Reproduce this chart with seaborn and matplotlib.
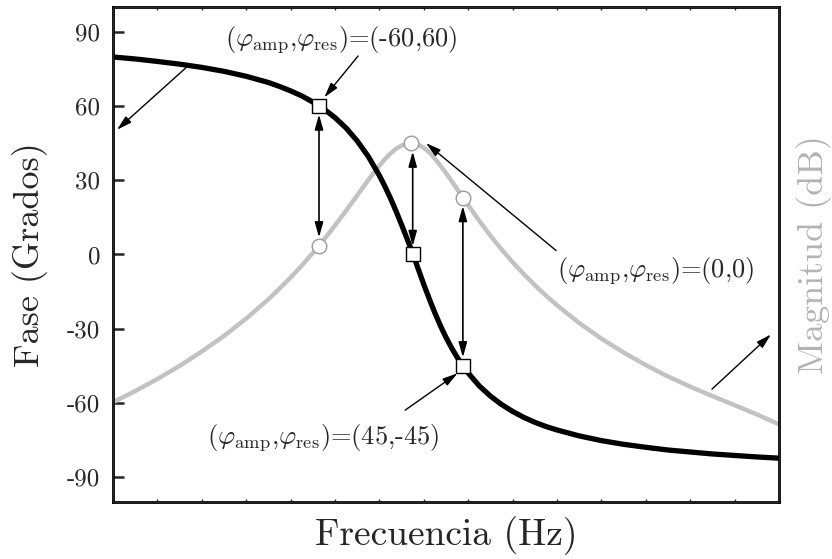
import matplotlib
matplotlib.use("Agg")
import matplotlib.pyplot as plt
import pandas as pd
import seaborn as sns

# Phase response (degrees) versus frequency (arbitrary units)
freq_phase = [0, 0.5, 1, 1.5, 2, 2.5, 3, 3.5, 3.75, 4, 4.25, 4.5, 4.64, 4.75, 5,
              5.25, 5.5, 5.75, 6, 6.125, 6.25, 6.375, 6.5, 6.625, 6.76, 6.88,
              7, 7.125, 7.25, 7.375, 7.5, 7.625, 7.75, 7.88, 8, 8.25, 8.5, 8.75,
              9, 9.25, 9.5, 9.75, 10, 10.5, 11, 11.5, 12, 12.5, 13, 13.5, 14,
              14.5, 15]
phase_deg = [79.8, 79.0, 78.0, 76.9, 75.6, 74.0, 72.0, 69.5, 67.9, 66.1, 64.1,
             61.6, 60.0, 58.8, 55.3, 51.1, 45.9, 39.6, 31.9, 27.5, 22.7, 17.5,
             12.0, 6.3, 0.0, -6.1, -12.1, -18.0, -23.6, -28.8, -33.5, -37.7,
             -41.5, -45.0, -47.9, -53.1, -57.2, -60.6, -63.4, -65.8, -67.8,
             -69.5, -70.9, -73.3, -75.2, -76.7, -77.9, -79.0, -79.8, -80.6,
             -81.2, -81.8, -82.3]

# Magnitude response, drawn on the same vertical scale
freq_mag = [0, 0.5, 1, 1.5, 2, 2.5, 3, 3.5, 3.75, 4, 4.25, 4.5, 4.64, 4.75, 5,
            5.25, 5.375, 5.5, 5.625, 5.75, 5.875, 6, 6.125, 6.25, 6.375, 6.5,
            6.6, 6.72, 6.86, 7, 7.125, 7.25, 7.375, 7.5, 7.625, 7.75, 7.88, 8,
            8.25, 8.5, 8.75, 9, 9.25, 9.5, 9.75, 10, 10.5, 11, 11.5, 12, 12.5,
            13, 13.5, 14, 14.5, 15]
magnitude = [-59.7, -55.2, -50.3, -45.0, -39.2, -32.9, -25.9, -18.1, -13.8,
             -9.3, -4.5, 0.6, 3.5, 6.0, 11.7, 17.7, 20.8, 23.9, 27.0, 30.1,
             33.1, 35.9, 38.5, 40.8, 42.7, 44.0, 44.7, 45.0, 44.5, 43.1, 41.2,
             38.7, 35.9, 32.9, 29.7, 26.4, 23.0, 19.9, 13.6, 7.6, 2.1, -3.1,
             -7.9, -12.4, -16.6, -20.5, -27.7, -34.0, -39.6, -44.7, -49.3,
             -53.4, -57.2, -60.9, -64.6, -68.6]

# Highlighted operating points
marker_freq_phase = [4.64, 6.76, 7.88]
marker_phase = [60, 0, -45]
marker_freq_mag = [4.64, 6.72, 7.88]
marker_mag = [3.5, 45, 23]

phase_ticks = [90, 60, 30, 0, -30, -60, -90]
phase_tick_labels = ["90", "60", "30", "0", "-30", "-60", "-90"]
pair_values = ["(-60,60)", "(0,0)", "(45,-45)"]

sns.set_style("ticks")
plt.rcParams["font.family"] = ["cmr10", "DejaVu Serif"]
plt.rcParams["mathtext.fontset"] = "cm"
plt.rcParams["axes.unicode_minus"] = False

GRAY = "#c2c2c2"

fig = plt.figure(figsize=(8.32, 5.59), dpi=100)
ax = fig.add_axes([0.1358, 0.102, 0.8005, 0.8855])

phase_df = pd.DataFrame({"f": freq_phase, "v": phase_deg})
mag_df = pd.DataFrame({"f": freq_mag, "v": magnitude})

sns.lineplot(data=mag_df, x="f", y="v", ax=ax, color=GRAY, lw=3.2, zorder=2)
sns.lineplot(data=phase_df, x="f", y="v", ax=ax, color="black", lw=3.8, zorder=3)

ax.set_xlim(0, 15)
ax.set_ylim(-100, 100)
ax.set_xticks(range(0, 16))
ax.set_xticklabels([])
ax.set_yticks(phase_ticks)
ax.set_yticklabels(phase_tick_labels)
ax.tick_params(axis="x", direction="in", length=2, width=1, top=True, bottom=True)
ax.tick_params(axis="y", direction="in", length=8, width=1.8, pad=9,
               labelsize=18, left=True, right=False)
for s in ax.spines.values():
    s.set_linewidth(2.0)
    s.set_color("black")

ax.set_xlabel("Frecuencia (Hz)", fontsize=27, labelpad=7)
ax.set_ylabel("Fase (Grados)", fontsize=26, labelpad=14)

twin = ax.twinx()
twin.set_ylim(-100, 100)
twin.set_yticks([])
twin.set_ylabel("Magnitud (dB)", fontsize=26, color="#b3b3b3", labelpad=12)

# Vertical double arrows linking each magnitude point to its phase point
dbl = dict(arrowstyle="<|-|>,head_length=0.9,head_width=0.25", color="black",
           lw=1.2, mutation_scale=10, shrinkA=6, shrinkB=6)
ax.annotate("", xy=(4.64, marker_mag[0]), xytext=(4.64, marker_phase[0]), arrowprops=dbl, zorder=4)
ax.annotate("", xy=(6.75, marker_phase[1]), xytext=(6.75, marker_mag[1]), arrowprops=dbl, zorder=4)
ax.annotate("", xy=(7.88, marker_phase[2]), xytext=(7.88, marker_mag[2]), arrowprops=dbl, zorder=4)

sns.scatterplot(x=marker_freq_mag, y=marker_mag, ax=ax, marker="o", s=110,
                color="white", edgecolor="#9a9a9a", linewidth=1.0, zorder=5)
sns.scatterplot(x=marker_freq_phase, y=marker_phase, ax=ax, marker="s", s=90,
                color="white", edgecolor="black", linewidth=1.0, zorder=6)

# Labels and pointer arrows
single = dict(arrowstyle="-|>,head_length=0.9,head_width=0.25", color="black",
              lw=1.0, mutation_scale=10, shrinkA=0, shrinkB=0)
pair = r"$(\varphi_{\rm amp}{,}\varphi_{\rm res})$="
ax.text(5.14, 87, pair + pair_values[0], ha="center", va="center", fontsize=19)
ax.annotate("", xy=(4.76, 63.5), xytext=(5.52, 80.2), arrowprops=single)
ax.text(12.23, -6.5, pair + pair_values[1], ha="center", va="center", fontsize=19)
ax.annotate("", xy=(7.05, 45.0), xytext=(9.98, 1.6), arrowprops=single)
ax.text(4.73, -74, pair + pair_values[2], ha="center", va="center", fontsize=19)
ax.annotate("", xy=(7.76, -48.0), xytext=(6.58, -62.9), arrowprops=single)

# Arrows pointing each curve to its own axis
ax.annotate("", xy=(0.09, 50.4), xytext=(1.64, 75.4), arrowprops=single)
ax.annotate("", xy=(14.82, -32.3), xytext=(13.49, -54.4), arrowprops=single)

fig.savefig("out.png", dpi=100)
